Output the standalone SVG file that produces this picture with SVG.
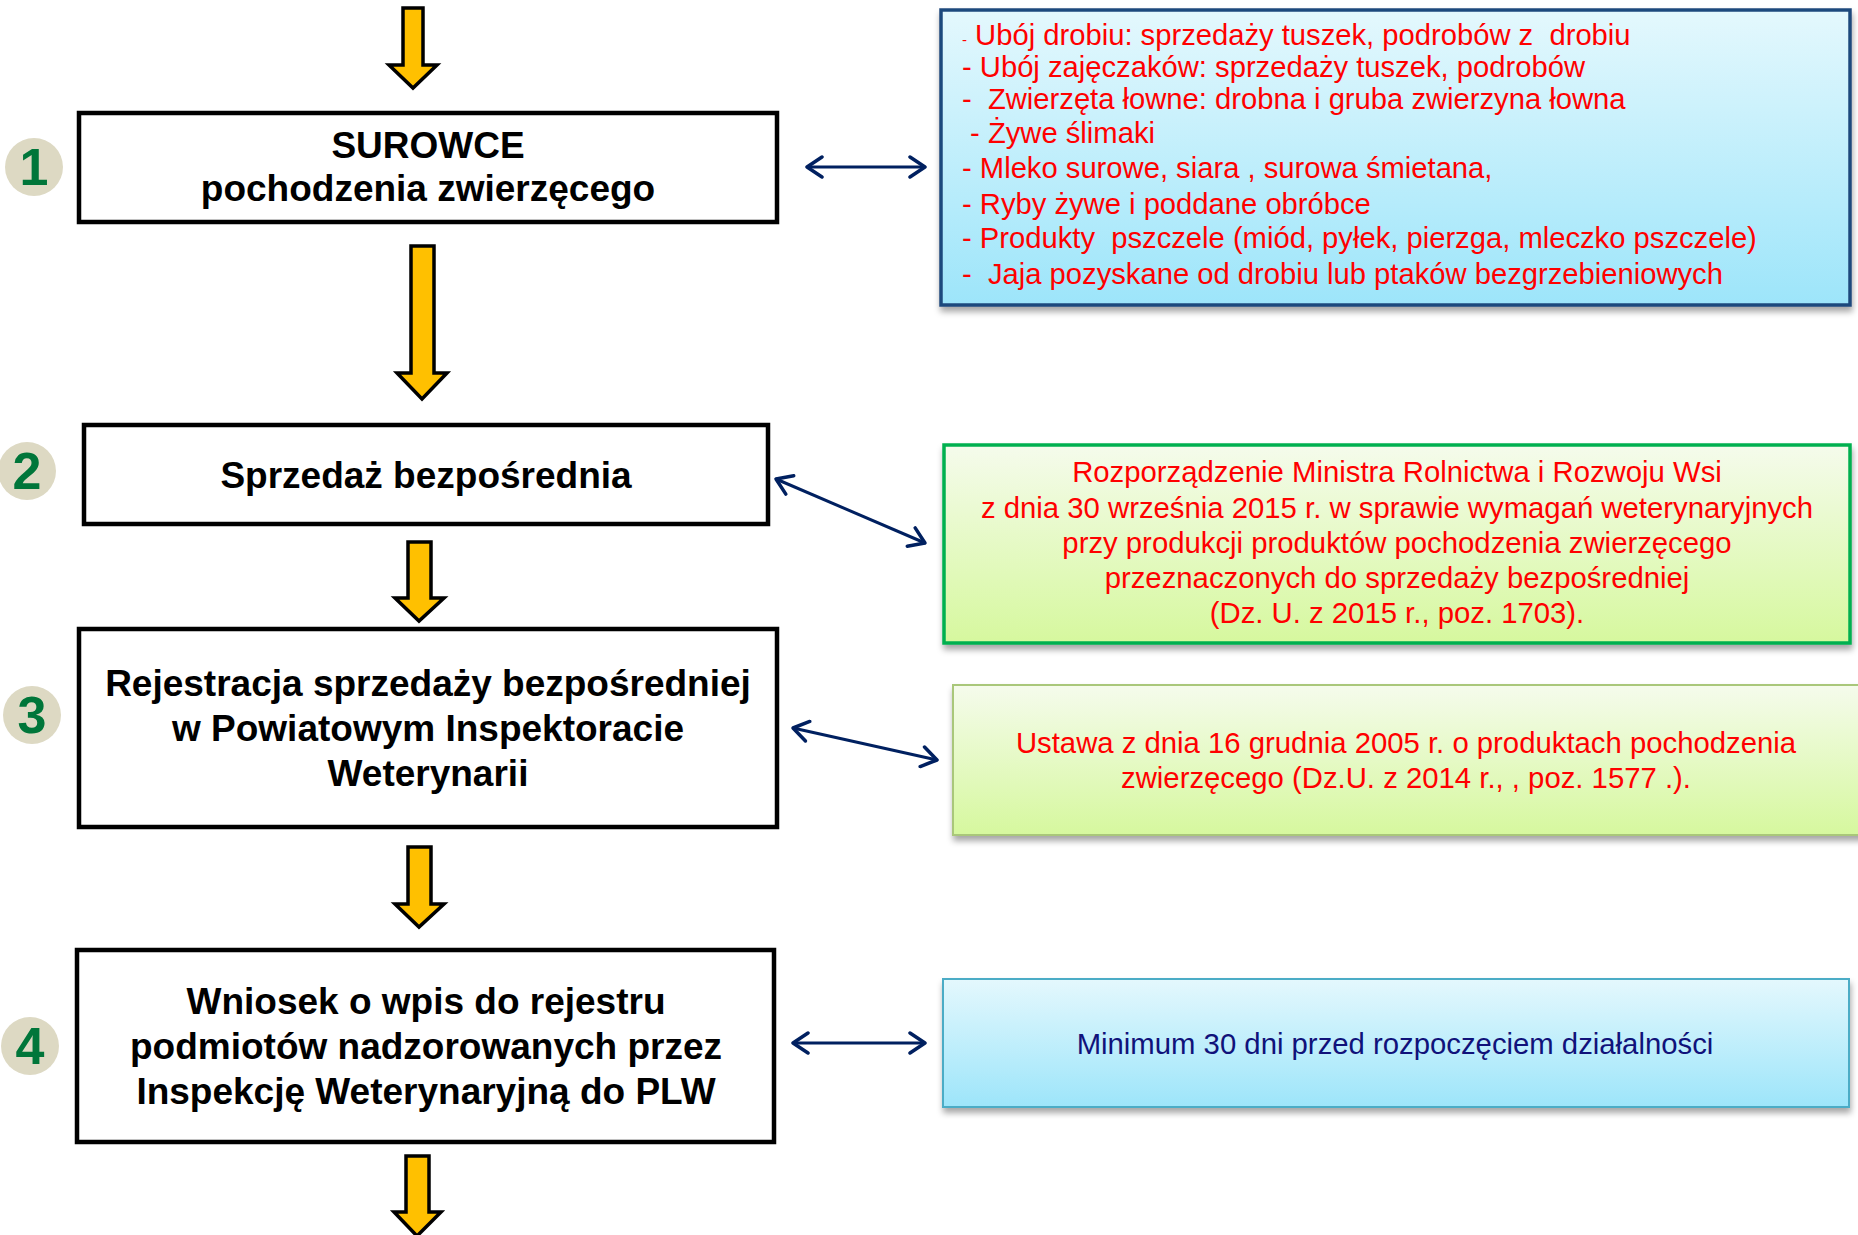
<svg xmlns="http://www.w3.org/2000/svg" width="1858" height="1235" viewBox="0 0 1858 1235">
<style>
.box{fill:#fff;stroke:#000;stroke-width:4.5}
.ybar{fill:#FFC000;stroke:#000;stroke-width:3.5;stroke-linejoin:miter}
.lt{font-family:"Liberation Sans",Arial,sans-serif;font-weight:bold;font-size:37px;fill:#000;text-anchor:middle}
.badge{fill:#DDD9C3}
.num{font-family:"Liberation Sans",Arial,sans-serif;font-weight:bold;font-size:52px;fill:#00763A;text-anchor:middle}
.rt{font-family:"Liberation Sans",Arial,sans-serif;font-size:29.2px;fill:#FF0000}
.rc{font-family:"Liberation Sans",Arial,sans-serif;font-size:29.3px;fill:#FF0000;text-anchor:middle}
.conn{fill:none;stroke:#002060;stroke-width:3;marker-start:url(#ah);marker-end:url(#ah)}
</style>
<defs>
<linearGradient id="gBlue" x1="0" y1="0" x2="0" y2="1">
<stop offset="0" stop-color="#E4F8FD"/>
<stop offset="1" stop-color="#9DE5FA"/>
</linearGradient>
<linearGradient id="gGreen" x1="0" y1="0" x2="0" y2="1">
<stop offset="0" stop-color="#F5FBEC"/>
<stop offset="1" stop-color="#D6F89E"/>
</linearGradient>
<filter id="sh" x="-5%" y="-10%" width="110%" height="125%">
<feDropShadow dx="1" dy="5" stdDeviation="3" flood-color="#000" flood-opacity="0.35"/>
</filter>
<marker id="ah" markerUnits="userSpaceOnUse" viewBox="0 0 20 24" refX="18" refY="12" markerWidth="20" markerHeight="24" orient="auto-start-reverse">
<path d="M3,2 L18,12 L3,22" fill="none" stroke="#002060" stroke-width="3.5" stroke-linecap="round" stroke-linejoin="round"/>
</marker>
</defs>

<g id="flow-arrows">
<path class="ybar" d="M403,8 H423 V65 H437 L413,88 L389,65 H403 Z"/>
<path class="ybar" d="M411,246 H434 V373 H447 L422,399 L397,373 H411 Z"/>
<path class="ybar" d="M408,542 H431 V598 H444 L419,621 L395,598 H408 Z"/>
<path class="ybar" d="M408,847 H431 V904 H444 L419,927 L395,904 H408 Z"/>
<path class="ybar" d="M406,1156 H429 V1212 H441 L417,1236 L394,1212 H406 Z"/>
</g>

<g id="connectors">
<line class="conn" x1="807" y1="167" x2="925" y2="167"/>
<line class="conn" x1="776" y1="479" x2="925" y2="543"/>
<line class="conn" x1="793" y1="728" x2="937" y2="760"/>
<line class="conn" x1="793" y1="1043" x2="925" y2="1043"/>
</g>

<g id="node1">
<rect class="box" x="79" y="113" width="698" height="109"/>
<text class="lt" x="428" y="158">SUROWCE</text>
<text class="lt" x="428" y="201">pochodzenia zwierzęcego</text>
</g>
<g id="badge1">
<circle class="badge" cx="34" cy="167" r="29"/>
<text class="num" x="34" y="185">1</text>
</g>

<g id="node2">
<rect class="box" x="84" y="425" width="684" height="99"/>
<text class="lt" x="426" y="488">Sprzedaż bezpośrednia</text>
</g>
<g id="badge2">
<circle class="badge" cx="27" cy="471" r="29"/>
<text class="num" x="27" y="489">2</text>
</g>

<g id="node3">
<rect class="box" x="79" y="629" width="698" height="198"/>
<text class="lt" x="428" y="696">Rejestracja sprzedaży bezpośredniej</text>
<text class="lt" x="428" y="741">w Powiatowym Inspektoracie</text>
<text class="lt" x="428" y="786">Weterynarii</text>
</g>
<g id="badge3">
<circle class="badge" cx="32" cy="715" r="29"/>
<text class="num" x="32" y="733">3</text>
</g>

<g id="node4">
<rect class="box" x="77" y="950" width="697" height="192"/>
<text class="lt" x="426" y="1014">Wniosek o wpis do rejestru</text>
<text class="lt" x="426" y="1059">podmiotów nadzorowanych przez</text>
<text class="lt" x="426" y="1104">Inspekcję Weterynaryjną do PLW</text>
</g>
<g id="badge4">
<circle class="badge" cx="30" cy="1046" r="29"/>
<text class="num" x="30" y="1064">4</text>
</g>

<g id="info1">
<rect x="941" y="10" width="909" height="295" fill="url(#gBlue)" stroke="#1F497D" stroke-width="3.5" filter="url(#sh)"/>
<text class="rt" x="962" y="45" xml:space="preserve"><tspan font-size="15">-</tspan> Ubój drobiu: sprzedaży tuszek, podrobów z  drobiu</text>
<text class="rt" x="962" y="77" xml:space="preserve">- Ubój zajęczaków: sprzedaży tuszek, podrobów</text>
<text class="rt" x="962" y="109" xml:space="preserve">-  Zwierzęta łowne: drobna i gruba zwierzyna łowna</text>
<text class="rt" x="962" y="143" xml:space="preserve"> - Żywe ślimaki</text>
<text class="rt" x="962" y="178" xml:space="preserve">- Mleko surowe, siara , surowa śmietana,</text>
<text class="rt" x="962" y="214" xml:space="preserve">- Ryby żywe i poddane obróbce</text>
<text class="rt" x="962" y="248" xml:space="preserve">- Produkty  pszczele (miód, pyłek, pierzga, mleczko pszczele)</text>
<text class="rt" x="962" y="284" xml:space="preserve">-  Jaja pozyskane od drobiu lub ptaków bezgrzebieniowych</text>
</g>

<g id="info2">
<rect x="944" y="445" width="906" height="198" fill="url(#gGreen)" stroke="#00B050" stroke-width="3.5" filter="url(#sh)"/>
<text class="rc" x="1397" y="482">Rozporządzenie Ministra Rolnictwa i Rozwoju Wsi</text>
<text class="rc" x="1397" y="518">z dnia 30 września 2015 r. w sprawie wymagań weterynaryjnych</text>
<text class="rc" x="1397" y="553">przy produkcji produktów pochodzenia zwierzęcego</text>
<text class="rc" x="1397" y="588">przeznaczonych do sprzedaży bezpośredniej</text>
<text class="rc" x="1397" y="623">(Dz. U. z 2015 r., poz. 1703).</text>
</g>

<g id="info3">
<rect x="953" y="685" width="920" height="150" fill="url(#gGreen)" stroke="#A9C77A" stroke-width="2" filter="url(#sh)"/>
<text class="rc" x="1406" y="753">Ustawa z dnia 16 grudnia 2005 r. o produktach pochodzenia</text>
<text class="rc" x="1406" y="788">zwierzęcego (Dz.U. z 2014 r., , poz. 1577 .).</text>
</g>

<g id="info4">
<rect x="943" y="979" width="906" height="128" fill="url(#gBlue)" stroke="#4BACC6" stroke-width="2" filter="url(#sh)"/>
<text class="rc" x="1395" y="1054" style="fill:#10127A">Minimum 30 dni przed rozpoczęciem działalności</text>
</g>
</svg>
